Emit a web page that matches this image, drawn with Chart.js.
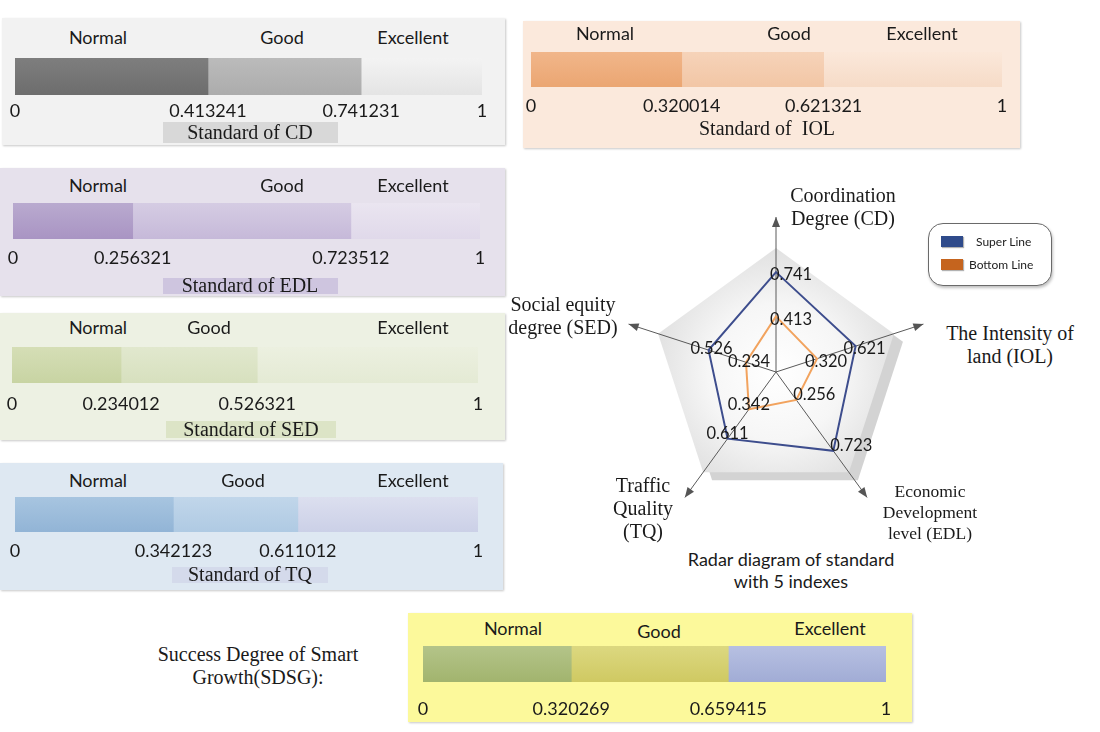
<!DOCTYPE html>
<html><head><meta charset="utf-8">
<script src="https://cdn.jsdelivr.net/npm/chart.js@4.4.1/dist/chart.umd.min.js"></script>
<style>
html,body{margin:0;padding:0;background:#fff;}
#stage{position:relative;width:1100px;height:732px;overflow:hidden;color:#1a1a1a;}
canvas{position:absolute;}
</style></head><body><div id="stage"></div>
<script>
// ---------- DATA ----------
const segmentNames = ['Normal', 'Good', 'Excellent'];
const cdThresholds   = [0, 0.413241, 0.741231, 1];
const iolThresholds  = [0, 0.320014, 0.621321, 1];
const edlThresholds  = [0, 0.256321, 0.723512, 1];
const sedThresholds  = [0, 0.234012, 0.526321, 1];
const tqThresholds   = [0, 0.342123, 0.611012, 1];
const sdsgThresholds = [0, 0.320269, 0.659415, 1];

const radarAxes = ['Coordination Degree (CD)', 'The Intensity of land (IOL)', 'Economic Development level (EDL)', 'Traffic Quality (TQ)', 'Social equity degree (SED)'];
const radarAxisLines = [['Coordination', 'Degree (CD)'], ['The Intensity of', 'land (IOL)'], ['Economic', 'Development', 'level (EDL)'], ['Traffic', 'Quality', '(TQ)'], ['Social equity', 'degree (SED)']];
const radarSeries = ['Super Line', 'Bottom Line'];
const superLine  = [0.741, 0.621, 0.723, 0.611, 0.526];
const bottomLine = [0.413, 0.320, 0.256, 0.342, 0.234];

// ---------- HELPERS ----------
const stage = document.getElementById('stage');
const SANS = 'Lato, "Open Sans", sans-serif';
const SERIF = '"Liberation Serif", "Times New Roman", serif';
function el(tag, css) { const e = document.createElement(tag); e.style.cssText = css; stage.appendChild(e); return e; }
function label(str, x, y, font, extra) {
  const d = el('div', `position:absolute;left:${x}px;top:${y}px;transform:translate(-50%,-50%);white-space:pre;line-height:1;font:${font};color:#1a1a1a;${extra || ''}`);
  d.textContent = str; return d;
}
function block(lines, x, y0, lh, font) {
  const d = el('div', `position:absolute;left:${x}px;top:${y0 - lh / 2}px;transform:translateX(-50%);white-space:nowrap;text-align:center;line-height:${lh}px;font:${font};color:#1a1a1a;`);
  lines.forEach((l, i) => { if (i) d.appendChild(document.createElement('br')); d.appendChild(document.createTextNode(l)); });
  return d;
}
function grad(c) {
  return (ctx) => {
    const a = ctx.chart.chartArea; if (!a) return c[0];
    const g = ctx.chart.ctx.createLinearGradient(0, a.top, 0, a.bottom);
    g.addColorStop(0, c[0]); g.addColorStop(1, c[1]); return g;
  };
}
function fmt(v) { return v === 0 ? '0' : v === 1 ? '1' : v.toFixed(6); }

// ---------- BAR PANELS ----------
const barPanels = [
  { key: 'CD', th: cdThresholds, panel: [2, 18, 503, 127, '#F2F2F2'], bar: [15, 58, 467, 37], pad: 5,
    colors: [['#7E7E7E', '#6D6D6D'], ['#BBBBBB', '#ACACAC'], ['#F3F3F3', '#E4E4E4']],
    lab: [[98, 37], [282, 37], [413, 37]], std: { text: 'Standard of CD', x: 250, y: 132, box: [163, 122, 175, 21, '#D8D8D8'] } },
  { key: 'IOL', th: iolThresholds, panel: [523, 21, 497, 127, '#FBE9DC'], bar: [531, 52, 471, 35], pad: 8,
    colors: [['#F1B68A', '#EBA672'], ['#F6D3B9', '#F2C6A5'], ['#FBE8DA', '#F6DBC7']],
    lab: [[605, 33], [789, 33], [922, 33]], std: { text: 'Standard of  IOL', x: 767, y: 128, box: null } },
  { key: 'EDL', th: edlThresholds, panel: [0, 168, 505, 128, '#E6E1EC'], bar: [13, 203, 467, 36], pad: 8,
    colors: [['#B9AACF', '#A994C3'], ['#D5CCE3', '#C6B9D9'], ['#EAE5F0', '#E0D9EA']],
    lab: [[98, 185], [282, 185], [413, 185]], std: { text: 'Standard of EDL', x: 250, y: 285, box: [163, 278, 175, 16, '#CEC5DF'] } },
  { key: 'SED', th: sedThresholds, panel: [0, 313, 505, 127, '#EDF1E3'], bar: [12, 347, 466, 36], pad: 10,
    colors: [['#D5DEB6', '#C8D4A3'], ['#E1E8CE', '#D7E0BE'], ['#ECF0E0', '#E4EAD4']],
    lab: [[98, 327], [209, 327], [413, 327]], std: { text: 'Standard of SED', x: 251, y: 429, box: [166, 421, 170, 17, '#DCE4C6'] } },
  { key: 'TQ', th: tqThresholds, panel: [0, 463, 503, 127, '#DEE8F2'], bar: [15, 497, 463, 35], pad: 8,
    colors: [['#A7C5E0', '#92B4D6'], ['#C1D6EA', '#AFCAE3'], ['#DCDFEF', '#CBD0E7']],
    lab: [[98, 480], [243, 480], [413, 480]], std: { text: 'Standard of TQ', x: 250, y: 574, box: [172, 567, 156, 16, '#D4DAEB'] } },
  { key: 'SDSG', th: sdsgThresholds, panel: [408, 613, 504, 109, '#FCF99B'], bar: [423, 646, 463, 36], pad: 16,
    colors: [['#B4C489', '#A2B46E'], ['#DCD880', '#CFC962'], ['#B7C0E2', '#A1ACD5']],
    lab: [[513, 628], [659, 631], [830, 628]], std: null }
];

barPanels.forEach(p => {
  const [px, py, pw, ph, pbg] = p.panel;
  el('div', `position:absolute;left:${px}px;top:${py}px;width:${pw}px;height:${ph}px;background:${pbg};box-shadow:1px 1px 2px rgba(0,0,0,0.22);`);
  if (p.std && p.std.box) {
    const [bx, by, bw, bh, bc] = p.std.box;
    el('div', `position:absolute;left:${bx}px;top:${by}px;width:${bw}px;height:${bh}px;background:${bc};`);
  }
  const [bx, by, bw, bh] = p.bar;
  const cv = document.createElement('canvas');
  const PAD = 40, AX = 40;
  cv.width = bw + 2 * PAD; cv.height = bh + AX;
  cv.style.left = (bx - PAD) + 'px'; cv.style.top = by + 'px';
  stage.appendChild(cv);
  const th = p.th;
  new Chart(cv, {
    type: 'bar',
    data: {
      labels: [p.key],
      datasets: segmentNames.map((n, i) => ({
        label: n, data: [[th[i], th[i + 1]]], backgroundColor: grad(p.colors[i]),
        borderWidth: 0, barPercentage: 1, categoryPercentage: 1
      }))
    },
    options: {
      indexAxis: 'y', responsive: false, animation: false, devicePixelRatio: window.devicePixelRatio || 1,
      layout: { padding: { left: PAD, right: PAD, top: 0, bottom: 0 } },
      plugins: { legend: { display: false }, tooltip: { enabled: false } },
      scales: {
        y: { display: false, stacked: true },
        x: {
          min: 0, max: 1,
          grid: { display: false, drawTicks: false }, border: { display: false },
          afterBuildTicks: s => { s.ticks = th.map(v => ({ value: v })); },
          afterFit: s => { s.height = AX; },
          ticks: { autoSkip: false, maxRotation: 0, minRotation: 0, padding: p.pad, color: '#1a1a1a',
                   font: { family: SANS, size: 18 }, callback: v => fmt(v) }
        }
      }
    }
  });
  p.lab.forEach((pos, i) => label(segmentNames[i], pos[0], pos[1], `18px ${SANS}`));
  if (p.std) label(p.std.text, p.std.x, p.std.y, `20px ${SERIF}`);
});

// SDSG caption
block(['Success Degree of Smart', 'Growth(SDSG):'], 258, 655, 25, `20px ${SERIF}`);

// ---------- RADAR ----------
const rc = document.createElement('canvas');
rc.width = 320; rc.height = 320; rc.style.left = '616px'; rc.style.top = '212px';
stage.appendChild(rc);

const labelOffsets = [[15, 3], [9, 3], [18, -5], [0, -5], [3, -1]];
const radarDecor = {
  id: 'radarDecor',
  beforeDraw(chart) {
    const s = chart.scales.r, ctx = chart.ctx;
    const fr = s.drawingArea * 0.8;
    const n = chart.data.labels.length;
    const poly = (dx, dy) => {
      ctx.beginPath();
      for (let i = 0; i < n; i++) { const p = s.getPointPosition(i, fr); i ? ctx.lineTo(p.x + dx, p.y + dy) : ctx.moveTo(p.x + dx, p.y + dy); }
      ctx.closePath();
    };
    ctx.save();
    poly(9, 8); ctx.fillStyle = '#D3D3D3'; ctx.fill();
    const g = ctx.createRadialGradient(s.xCenter, s.yCenter, 0, s.xCenter, s.yCenter, fr);
    g.addColorStop(0, '#FFFFFF'); g.addColorStop(0.55, '#F6F6F6'); g.addColorStop(0.8, '#EAEAEA'); g.addColorStop(1, '#E1E1E1');
    poly(0, 0); ctx.fillStyle = g; ctx.fill();
    ctx.restore();
  },
  afterDatasetsDraw(chart) {
    const ctx = chart.ctx;
    ctx.save();
    ctx.font = `16.5px ${SANS}`; ctx.fillStyle = '#1a1a1a'; ctx.textAlign = 'center'; ctx.textBaseline = 'middle';
    chart.data.datasets.forEach((ds, di) => {
      chart.getDatasetMeta(di).data.forEach((pt, i) => {
        ctx.fillText(ds.data[i].toFixed(3), pt.x + labelOffsets[i][0], pt.y + labelOffsets[i][1]);
      });
    });
    ctx.restore();
  },
  afterDraw(chart) {
    const s = chart.scales.r, ctx = chart.ctx;
    ctx.save(); ctx.fillStyle = '#555';
    for (let i = 0; i < chart.data.labels.length; i++) {
      const p = s.getPointPosition(i, s.drawingArea);
      const a = Math.atan2(p.y - s.yCenter, p.x - s.xCenter);
      const L = 10, W = 4;
      ctx.beginPath();
      ctx.moveTo(p.x, p.y);
      ctx.lineTo(p.x - L * Math.cos(a) + W * Math.sin(a), p.y - L * Math.sin(a) - W * Math.cos(a));
      ctx.lineTo(p.x - L * Math.cos(a) - W * Math.sin(a), p.y - L * Math.sin(a) + W * Math.cos(a));
      ctx.closePath(); ctx.fill();
    }
    ctx.restore();
  }
};

new Chart(rc, {
  type: 'radar',
  data: {
    labels: radarAxes,
    datasets: [
      { label: radarSeries[0], data: superLine, borderColor: '#3D4D8D', borderWidth: 2, fill: false, pointRadius: 0, backgroundColor: 'transparent', tension: 0 },
      { label: radarSeries[1], data: bottomLine, borderColor: '#F2A35E', borderWidth: 2, fill: false, pointRadius: 0, backgroundColor: 'transparent', tension: 0 }
    ]
  },
  options: {
    responsive: false, animation: false,
    layout: { padding: 5 },
    plugins: { legend: { display: false }, tooltip: { enabled: false } },
    scales: {
      r: {
        min: 0, max: 1.15,
        ticks: { display: false },
        grid: { display: false },
        angleLines: { display: true, color: '#5A5A5A', lineWidth: 1 },
        pointLabels: { display: false }
      }
    }
  },
  plugins: [radarDecor]
});

// Radar axis labels
const axisLabelPos = [[843, 197, 26, 20], [1010, 335, 26, 20], [930, 492, 22, 17.5], [643, 486, 25, 20], [563, 305, 25, 20]];
radarAxisLines.forEach((lines, i) => {
  const [x, y, lh, fs] = axisLabelPos[i];
  block(lines, x, y, lh, `${fs}px ${SERIF}`);
});
block(['Radar diagram of standard', 'with 5 indexes'], 791, 560, 24, `18px ${SANS}`);

// Legend
el('div', 'position:absolute;left:928px;top:223px;width:124px;height:63px;border:1px solid #6a6a6a;border-radius:15px;background:#fff;box-shadow:1px 2px 3px rgba(0,0,0,0.25);box-sizing:border-box;');
const legendColors = ['#2F4B8B', '#C5641E'];
radarSeries.forEach((n, i) => {
  const y = 236 + i * 23;
  el('div', `position:absolute;left:941px;top:${y}px;width:22px;height:11px;background:${legendColors[i]};box-shadow:1px 1px 1px rgba(0,0,0,0.3);`);
  const t = el('div', `position:absolute;left:${i ? 969 : 976}px;top:${y + 5.5}px;transform:translateY(-50%);font:12px ${SANS};color:#222;white-space:nowrap;line-height:1;`);
  t.textContent = n;
});
</script>
</body></html>
